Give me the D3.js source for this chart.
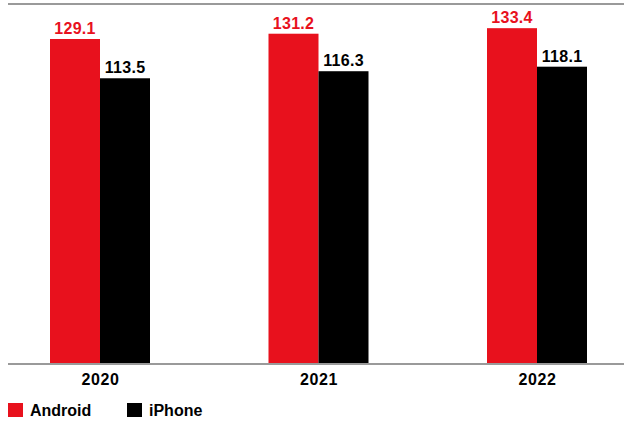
<!doctype html>
<html lang="en">
<head>
    <meta charset="UTF-8" />
    <script src="https://d3js.org/d3.v7.min.js"></script>
    <style>
        body { margin: 0; background: #fff; }
        text { font-family: "Liberation Sans", Arial, sans-serif; font-weight: bold; }
    </style>
</head>
<body>
    <div id="chart"></div>
    <script>
        // Data
        const years = ["2020", "2021", "2022"]
        const series = ["Android", "iPhone"]
        const android = [129.1, 131.2, 133.4]
        const iphone = [113.5, 116.3, 118.1]
        const colors = ["#e8111d", "#000000"]

        const WIDTH = 624
        const HEIGHT = 421
        const baseY = 364
        const barW = 50

        const svg = d3.select("#chart").append("svg")
            .attr("width", WIDTH)
            .attr("height", HEIGHT)

        // x: group centers, y: linear from zero
        const x = d3.scalePoint().domain(years).range([100, 537])
        const xs = d3.scaleBand().domain(series).range([-barW, barW])
        const y = d3.scaleLinear().domain([0, 129.1]).range([baseY, 39])

        // top rule
        svg.append("line")
            .attr("x1", 8).attr("x2", WIDTH)
            .attr("y1", 4).attr("y2", 4)
            .attr("stroke", "#9a9a9a").attr("stroke-width", 2)

        const rows = years.map((yr, i) => ({ year: yr, values: [android[i], iphone[i]] }))

        const groups = svg.selectAll(".group")
            .data(rows)
            .join("g")
            .attr("class", "group")
            .attr("transform", d => `translate(${x(d.year)},0)`)

        groups.selectAll("rect")
            .data(d => d.values.map((v, j) => ({ key: series[j], value: v, color: colors[j] })))
            .join("rect")
            .attr("x", d => xs(d.key))
            .attr("width", xs.bandwidth())
            .attr("y", d => y(d.value))
            .attr("height", d => baseY - y(d.value))
            .attr("fill", d => d.color)

        groups.selectAll(".val")
            .data(d => d.values.map((v, j) => ({ key: series[j], value: v, color: colors[j] })))
            .join("text")
            .attr("class", "val")
            .attr("x", d => xs(d.key) + xs.bandwidth() / 2)
            .attr("y", d => y(d.value) - 5)
            .attr("text-anchor", "middle")
            .attr("font-size", "16px")
            .attr("letter-spacing", "0.3px")
            .attr("fill", d => d.color)
            .text(d => d.value.toFixed(1))

        // baseline and x axis labels
        const xAxis = svg.append("g")
            .attr("transform", `translate(0,${baseY})`)
            .call(d3.axisBottom(x).tickSize(0).tickPadding(10))
        xAxis.select(".domain").remove()
        xAxis.selectAll("text")
            .attr("font-size", "16px")
            .attr("letter-spacing", "0.6px")
            .attr("fill", "#000")
            .style("font-family", "'Liberation Sans', Arial, sans-serif")
            .style("font-weight", "bold")

        svg.append("line")
            .attr("x1", 8).attr("x2", WIDTH)
            .attr("y1", baseY).attr("y2", baseY)
            .attr("stroke", "#9a9a9a").attr("stroke-width", 2)

        // legend
        const legend = svg.append("g")
            .attr("transform", "translate(8,403)")

        const items = legend.selectAll(".item")
            .data(series)
            .join("g")
            .attr("class", "item")
            .attr("transform", (d, i) => `translate(${i * 119},0)`)

        items.append("rect")
            .attr("width", 15).attr("height", 14)
            .attr("fill", (d, i) => colors[i])

        items.append("text")
            .attr("x", 22)
            .attr("y", 13)
            .attr("font-size", "16px")
            .attr("fill", "#000")
            .text(d => d)
    </script>
</body>
</html>
